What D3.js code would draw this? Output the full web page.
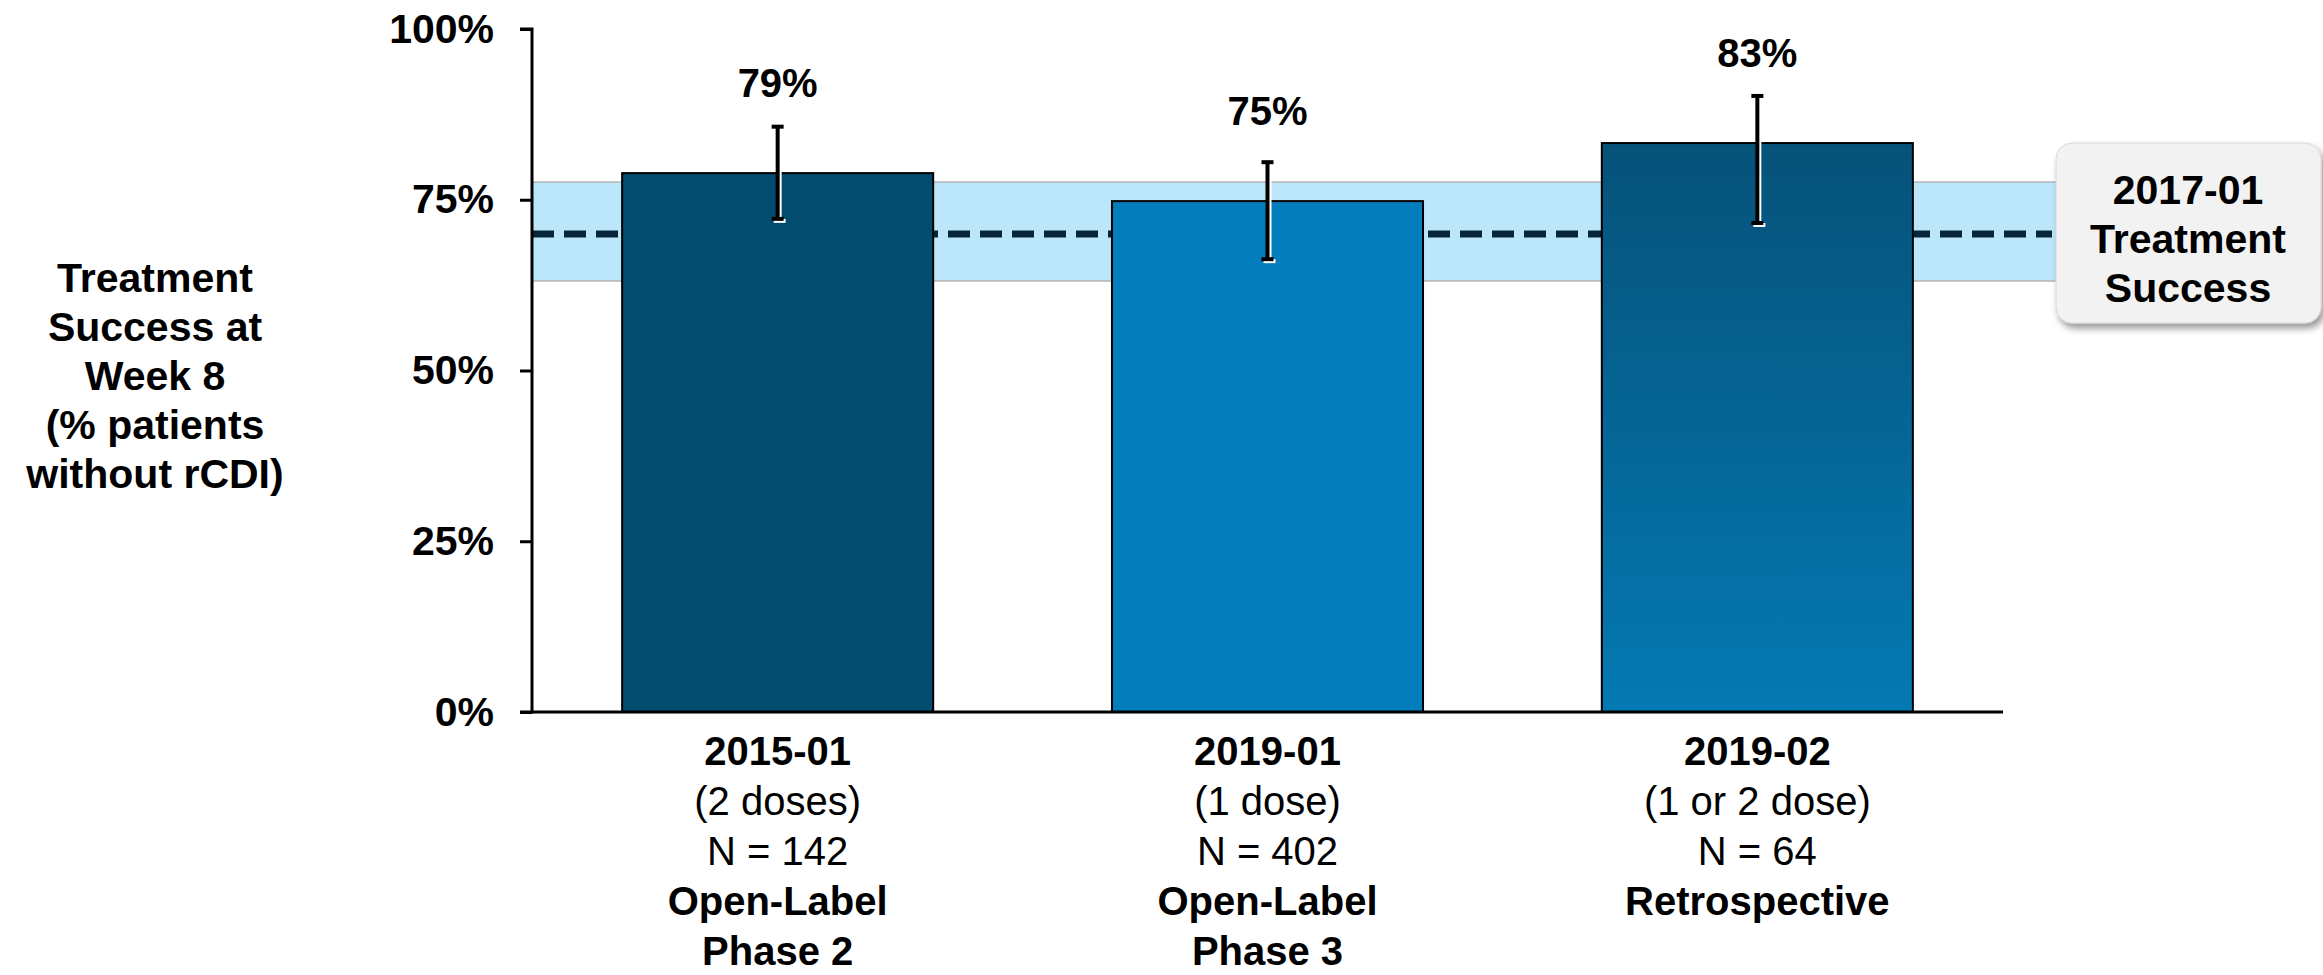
<!DOCTYPE html>
<html>
<head>
<meta charset="utf-8">
<script src="https://cdn.jsdelivr.net/npm/d3@7"></script>
<style>
  html, body { margin: 0; padding: 0; background: #ffffff; }
  svg { display: block; }
  text { font-family: "Liberation Sans", Arial, sans-serif; fill: #000; }
</style>
</head>
<body>
<svg id="chart" width="2323" height="975"></svg>
<script>
// ---- data ----
const categories = ["2015-01", "2019-01", "2019-02"];
const doses = ["(2 doses)", "(1 dose)", "(1 or 2 dose)"];
const sampleSizes = ["N = 142", "N = 402", "N = 64"];
const studyTypes = [["Open-Label", "Phase 2"], ["Open-Label", "Phase 3"], ["Retrospective"]];
const successValues = [78.9, 74.8, 83.3];
const ciLow = [72.2, 66.3, 71.6];
const ciHigh = [85.7, 80.5, 90.2];
const referenceValue = 70;
const referenceBand = [63.1, 77.6];
const referenceLabel = ["2017-01", "Treatment", "Success"];
const yTicks = [0, 25, 50, 75, 100];
const yTitle = ["Treatment", "Success at", "Week 8", "(% patients", "without rCDI)"];

// ---- layout ----
const svg = d3.select("#chart");
const x0 = 532, x1 = 2003, yTop = 29, yBot = 712;
const x = d3.scaleBand().domain(categories).range([x0, x1]).paddingInner(0.365).paddingOuter(0.184);
const y = d3.scaleLinear().domain([0, 100]).range([yBot, yTop]);

const defs = svg.append("defs");
const grad = defs.append("linearGradient").attr("id", "g3").attr("x1", 0).attr("y1", 0).attr("x2", 0).attr("y2", 1);
grad.append("stop").attr("offset", "0%").attr("stop-color", "#065279");
grad.append("stop").attr("offset", "100%").attr("stop-color", "#0479b3");
const shadow = defs.append("filter").attr("id", "shadow").attr("x", "-10%").attr("y", "-10%").attr("width", "130%").attr("height", "130%");
shadow.append("feDropShadow").attr("dx", 3).attr("dy", 5).attr("stdDeviation", 3.5).attr("flood-color", "#000").attr("flood-opacity", 0.4);

const fills = ["#034b6f", "#037dbb", "url(#g3)"];

// reference band
svg.append("rect")
  .attr("x", x0).attr("y", y(referenceBand[1]))
  .attr("width", 2056 - x0).attr("height", y(referenceBand[0]) - y(referenceBand[1]))
  .attr("fill", "#bce7fa");
[referenceBand[0], referenceBand[1]].forEach(v => {
  svg.append("line").attr("x1", x0).attr("x2", 2056).attr("y1", y(v)).attr("y2", y(v))
    .attr("stroke", "#b5b5b5").attr("stroke-width", 1.5);
});
// reference dashed line
svg.append("line")
  .attr("x1", x0).attr("x2", 2052).attr("y1", y(referenceValue)).attr("y2", y(referenceValue))
  .attr("stroke", "#06263a").attr("stroke-width", 7).attr("stroke-dasharray", "22,10");

// bars
svg.selectAll("rect.bar").data(categories).enter().append("rect")
  .attr("class", "bar")
  .attr("x", d => x(d)).attr("width", x.bandwidth())
  .attr("y", (d, i) => y(successValues[i]))
  .attr("height", (d, i) => yBot - y(successValues[i]))
  .attr("fill", (d, i) => fills[i])
  .attr("stroke", "#000").attr("stroke-width", 2);

// error bars (white offset + black)
const cap = 6;
[{dx: 2, dy: 2, c: "#ffffff"}, {dx: 0, dy: 0, c: "#000000"}].forEach(s => {
  categories.forEach((d, i) => {
    const cx = x(d) + x.bandwidth() / 2 + s.dx;
    const g = svg.append("g").attr("stroke", s.c).attr("stroke-width", 4);
    g.append("line").attr("x1", cx).attr("x2", cx).attr("y1", y(ciHigh[i]) + s.dy).attr("y2", y(ciLow[i]) + s.dy);
    g.append("line").attr("x1", cx - cap).attr("x2", cx + cap).attr("y1", y(ciHigh[i]) + s.dy).attr("y2", y(ciHigh[i]) + s.dy);
    g.append("line").attr("x1", cx - cap).attr("x2", cx + cap).attr("y1", y(ciLow[i]) + s.dy).attr("y2", y(ciLow[i]) + s.dy);
  });
});

// value labels: above the bar, kept clear of the error bar
svg.selectAll("text.val").data(categories).enter().append("text")
  .attr("class", "val")
  .attr("x", d => x(d) + x.bandwidth() / 2)
  .attr("y", (d, i) => Math.min(y(successValues[i]) - 76, y(ciHigh[i]) - 15))
  .attr("text-anchor", "middle")
  .attr("font-weight", "bold").attr("font-size", 40)
  .text((d, i) => Math.round(successValues[i]) + "%");

// y axis
const yAxis = d3.axisLeft(y).tickValues(yTicks).tickFormat(d => d + "%").tickSize(12).tickPadding(26);
const ga = svg.append("g").attr("transform", `translate(${x0},0)`).call(yAxis);
ga.select(".domain").attr("stroke", "#000").attr("stroke-width", 3).attr("d", `M-12,${yTop}H0V${yBot}H-12`);
ga.selectAll(".tick line").attr("stroke", "#000").attr("stroke-width", 3);
ga.selectAll(".tick text").attr("font-family", "Liberation Sans, Arial, sans-serif")
  .attr("font-size", 41).attr("font-weight", "bold").attr("fill", "#000");

// x axis line
svg.append("line").attr("x1", x0).attr("x2", x1).attr("y1", yBot).attr("y2", yBot)
  .attr("stroke", "#000").attr("stroke-width", 3);

// x labels
categories.forEach((d, i) => {
  const cx = x(d) + x.bandwidth() / 2;
  const lines = [
    {t: d, b: true},
    {t: doses[i], b: false},
    {t: sampleSizes[i], b: false}
  ].concat(studyTypes[i].map(t => ({t: t, b: true})));
  lines.forEach((l, k) => {
    svg.append("text").attr("x", cx).attr("y", 765 + k * 50)
      .attr("text-anchor", "middle").attr("font-size", 40)
      .attr("font-weight", l.b ? "bold" : "normal").text(l.t);
  });
});

// y title
yTitle.forEach((t, k) => {
  svg.append("text").attr("x", 155).attr("y", 292 + k * 49)
    .attr("text-anchor", "middle").attr("font-size", 41).attr("font-weight", "bold").text(t);
});

// callout
svg.append("rect").attr("x", 2056).attr("y", 143).attr("width", 265).attr("height", 180)
  .attr("rx", 16).attr("ry", 16).attr("fill", "#f2f2f2").attr("stroke", "#d9d9d9").attr("stroke-width", 1)
  .attr("filter", "url(#shadow)");
referenceLabel.forEach((t, k) => {
  svg.append("text").attr("x", 2188).attr("y", 204 + k * 49)
    .attr("text-anchor", "middle").attr("font-size", 41).attr("font-weight", "bold").text(t);
});
</script>
</body>
</html>
